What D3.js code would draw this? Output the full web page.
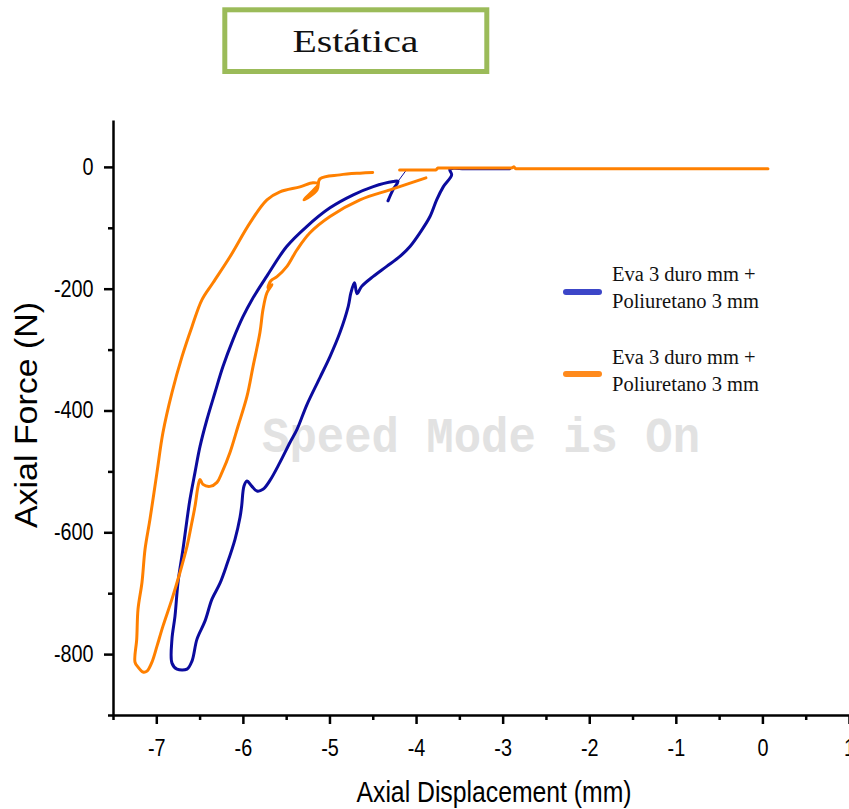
<!DOCTYPE html>
<html>
<head>
<meta charset="utf-8">
<script src="https://cdn.jsdelivr.net/npm/d3@7"></script>
<style>
  html, body { margin: 0; padding: 0; background: #fff; }
  svg { display: block; }
</style>
</head>
<body>
<svg id="chart" width="849" height="809"></svg>
<script>
// Axis ticks
const xMajor = [-7, -6, -5, -4, -3, -2, -1, 0, 1];
const xMinor = [-7.5, -6.5, -5.5, -4.5, -3.5, -2.5, -1.5, -0.5, 0.5];
const yMajor = [-800, -600, -400, -200, 0];
const yMinor = [-900, -700, -500, -300, -100];

// Eva 3 duro mm + Poliuretano 3 mm (blue run): [displacement mm, force N]
const blueCurve = [
  [-2.92, -3], [-3.11, -3], [-3.26, -3], [-3.44, -3], [-3.61, -4],
  [-3.589, -13.1], [-3.686, -32.8], [-3.762, -54.1], [-3.839, -81.5], [-3.955, -108.2],
  [-4.070, -130.7], [-4.186, -147.0], [-4.339, -163.4], [-4.494, -179.8], [-4.628, -196.2],
  [-4.682, -208.2], [-4.711, -190.2], [-4.752, -206.6], [-4.783, -229.0], [-4.879, -272.1],
  [-4.994, -311.5], [-5.110, -345.9], [-5.260, -390.2], [-5.375, -431.1], [-5.456, -452.5],
  [-5.572, -485.2], [-5.687, -514.8], [-5.768, -529.5], [-5.837, -532.3], [-5.898, -524.1],
  [-5.953, -515.9], [-5.987, -524.1], [-6.014, -556.9], [-6.033, -575.4], [-6.091, -611.5],
  [-6.184, -652.5], [-6.264, -683.6], [-6.357, -709.8], [-6.438, -745.9], [-6.530, -775.4],
  [-6.588, -811.5], [-6.645, -824.6], [-6.761, -824.6], [-6.819, -814.8],
  [-6.819, -775.4], [-6.784, -737.7], [-6.749, -682.0], [-6.692, -627.9], [-6.645, -578.7],
  [-6.611, -545.9], [-6.553, -501.6], [-6.495, -459.0], [-6.415, -414.8], [-6.322, -370.5],
  [-6.230, -327.9], [-6.114, -283.6], [-5.999, -245.9], [-5.895, -218.0], [-5.725, -179.8],
  [-5.494, -130.7], [-5.263, -97.9], [-4.994, -67.2], [-4.725, -45.9], [-4.494, -32.3],
  [-4.263, -24.1], [-4.209, -23.8], [-4.267, -37.7], [-4.324, -55.7]
];
const blueLink = [[-4.209, -23.8], [-4.117, -6.1]];

// Eva 3 duro mm + Poliuretano 3 mm (orange run)
const orangeBaseline = [
  [0.064, -3], [-2.85, -3], [-2.87, 0], [-2.90, -2], [-3.75, -2], [-3.77, -5], [-4.19, -5]
];
const orangeCurve = [
  [-3.886, -18.0], [-4.267, -36.1], [-4.648, -54.1], [-4.994, -81.5], [-5.225, -108.2],
  [-5.375, -136.1], [-5.491, -163.4], [-5.606, -180.3], [-5.676, -186.9], [-5.710, -198.4],
  [-5.664, -193.4], [-5.722, -206.6], [-5.768, -234.4], [-5.803, -272.1], [-5.883, -327.9],
  [-5.953, -377.0], [-6.057, -426.2], [-6.149, -468.9], [-6.241, -501.6], [-6.299, -518.0],
  [-6.380, -524.6], [-6.461, -521.3], [-6.495, -513.1], [-6.518, -524.6], [-6.553, -557.4],
  [-6.591, -585.2], [-6.645, -622.9], [-6.726, -665.6], [-6.819, -709.8], [-6.923, -754.1],
  [-6.992, -786.9], [-7.050, -813.1], [-7.107, -827.9], [-7.154, -829.5], [-7.211, -821.3],
  [-7.246, -813.1],
  [-7.226, -775.4], [-7.211, -726.2], [-7.165, -682.0], [-7.130, -627.9], [-7.073, -578.7],
  [-6.992, -501.6], [-6.923, -436.1], [-6.819, -370.5], [-6.703, -311.5], [-6.588, -262.3],
  [-6.472, -218.0], [-6.345, -190.2], [-6.149, -147.5], [-5.918, -91.8], [-5.722, -54.1],
  [-5.572, -41.0], [-5.341, -32.8], [-5.191, -26.2], [-5.133, -27.9], [-5.294, -54.1],
  [-5.144, -37.7], [-5.110, -19.7], [-4.879, -13.1], [-4.648, -10.3], [-4.501, -9.3]
];

const legendLabels = [
  ["Eva 3 duro mm +", "Poliuretano 3 mm"],
  ["Eva 3 duro mm +", "Poliuretano 3 mm"]
];
const legendColors = ["#3c46c8", "#ff8a1c"];

const svg = d3.select("#chart");

// Title box
svg.append("rect")
  .attr("x", 224.8).attr("y", 9.8).attr("width", 262).attr("height", 61.7)
  .attr("fill", "#fff").attr("stroke", "#9bbb59").attr("stroke-width", 5);
svg.append("text")
  .attr("x", 355.5).attr("y", 52)
  .attr("text-anchor", "middle")
  .attr("font-family", "'Liberation Serif', 'Times New Roman', serif")
  .attr("font-size", 32)
  .attr("textLength", 126).attr("lengthAdjust", "spacingAndGlyphs")
  .attr("fill", "#111")
  .text("Estática");

// Scales
const x = d3.scaleLinear().domain([-7.5, 1]).range([113, 849]);
const y = d3.scaleLinear().domain([-900, 77]).range([715, 120]);

// Watermark
svg.append("text")
  .attr("x", 262).attr("y", 452)
  .attr("font-family", "'Liberation Mono', 'Courier New', monospace")
  .attr("font-weight", "bold")
  .attr("font-size", 50)
  .attr("textLength", 438).attr("lengthAdjust", "spacingAndGlyphs")
  .attr("fill", "#e2e2e2")
  .text("Speed Mode is On");

const tickFont = "'Liberation Sans', Arial, sans-serif";

function squeeze(sel, k) {
  sel.each(function () {
    const w = this.getComputedTextLength();
    this.setAttribute("textLength", w * k);
    this.setAttribute("lengthAdjust", "spacingAndGlyphs");
  });
}

// Minor ticks
svg.append("g").attr("transform", "translate(0,715)")
  .call(d3.axisBottom(x).tickValues(xMinor).tickSize(5).tickSizeOuter(0).tickFormat(""))
  .call(g => g.select(".domain").remove())
  .call(g => g.selectAll("line").attr("stroke", "#000").attr("stroke-width", 2.5));
svg.append("g").attr("transform", "translate(113,0)")
  .call(d3.axisLeft(y).tickValues(yMinor).tickSize(5).tickSizeOuter(0).tickFormat(""))
  .call(g => g.select(".domain").remove())
  .call(g => g.selectAll("line").attr("stroke", "#000").attr("stroke-width", 2.5));

// Major axes
const gx = svg.append("g").attr("transform", "translate(0,715)")
  .call(d3.axisBottom(x).tickValues(xMajor).tickSize(9).tickSizeOuter(0).tickPadding(16)
    .tickFormat(d => String(d)));
const gy = svg.append("g").attr("transform", "translate(113,0)")
  .call(d3.axisLeft(y).tickValues(yMajor).tickSize(9).tickSizeOuter(0).tickPadding(10.5)
    .tickFormat(d => String(d)));

[gx, gy].forEach(g => {
  g.select(".domain").attr("stroke", "#000").attr("stroke-width", 2.5);
  g.selectAll(".tick line").attr("stroke", "#000").attr("stroke-width", 2.5);
  g.selectAll(".tick text")
    .attr("font-family", tickFont).attr("font-size", 23).attr("fill", "#000");
  squeeze(g.selectAll(".tick text"), 0.86);
});

// Axis titles
svg.append("text")
  .attr("x", 494).attr("y", 802)
  .attr("text-anchor", "middle")
  .attr("font-family", tickFont).attr("font-size", 29)
  .attr("textLength", 275).attr("lengthAdjust", "spacingAndGlyphs")
  .text("Axial Displacement (mm)");
svg.append("text")
  .attr("transform", "translate(37,415) rotate(-90)")
  .attr("text-anchor", "middle")
  .attr("font-family", tickFont).attr("font-size", 31)
  .attr("textLength", 226).attr("lengthAdjust", "spacingAndGlyphs")
  .text("Axial Force (N)");

// Curves
const line = d3.line().x(d => x(d[0])).y(d => y(d[1]))
  .curve(d3.curveCatmullRom.alpha(0.5));
const plot = svg.append("g").attr("fill", "none")
  .attr("stroke-linejoin", "round").attr("stroke-linecap", "round");

plot.append("path").datum(blueLink).attr("d", line)
  .attr("stroke", "#0b0b9e").attr("stroke-width", 1);
plot.append("path").datum(blueCurve).attr("d", line)
  .attr("stroke", "#0b0b9e").attr("stroke-width", 3);
plot.append("path").datum(orangeBaseline).attr("d", line.curve(d3.curveLinear))
  .attr("stroke", "#ff8000").attr("stroke-width", 3);
line.curve(d3.curveCatmullRom.alpha(0.5));
plot.append("path").datum(orangeCurve).attr("d", line)
  .attr("stroke", "#ff8000").attr("stroke-width", 3);

// Legend
const legend = svg.append("g");
legendLabels.forEach((lines, i) => {
  const oy = i * 83;
  legend.append("line")
    .attr("x1", 566).attr("x2", 599)
    .attr("y1", 292 + oy - 1 * i).attr("y2", 292 + oy - 1 * i)
    .attr("stroke", legendColors[i]).attr("stroke-width", 6)
    .attr("stroke-linecap", "round");
  lines.forEach((t, j) => {
    legend.append("text")
      .attr("x", 612).attr("y", 281 + oy + j * 26.5)
      .attr("font-family", "'Liberation Serif', 'Times New Roman', serif")
      .attr("font-size", 20.5)
      .attr("fill", "#111")
      .text(t);
  });
});
</script>
</body>
</html>
